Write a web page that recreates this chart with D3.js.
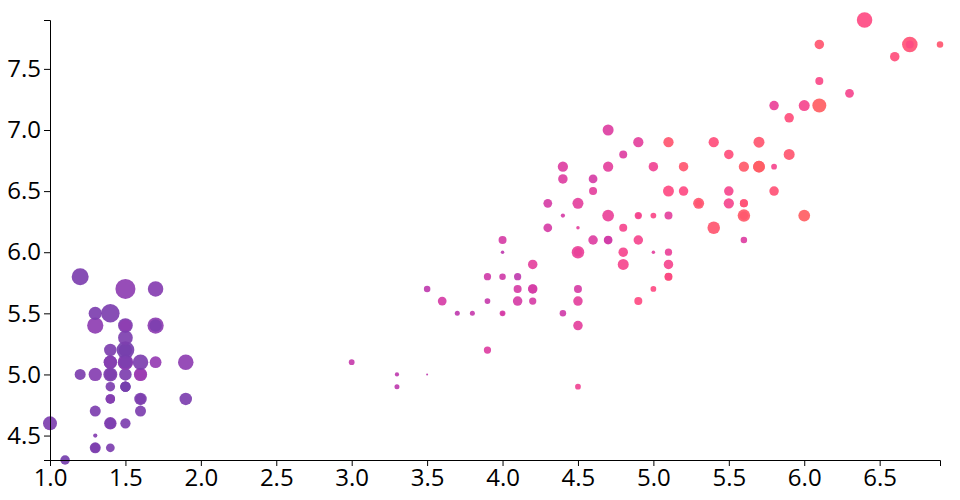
<!DOCTYPE html>
<html>
<head>
<meta charset="utf-8">
<script src="https://cdn.jsdelivr.net/npm/d3@7"></script>
<style>
  body { margin: 0; background: #fff; }
  svg { display: block; }
  .axis text { font-family: "Open Sans", sans-serif; font-size: 24px; fill: #000; }
</style>
</head>
<body>
<svg id="chart" width="960" height="500"></svg>
<script>
// Iris data (sepal length, sepal width, petal length, petal width)
const sepalLength = [5.1,4.9,4.7,4.6,5.0,5.4,4.6,5.0,4.4,4.9,5.4,4.8,4.8,4.3,5.8,5.7,5.4,5.1,5.7,5.1,5.4,5.1,4.6,5.1,4.8,5.0,5.0,5.2,5.2,4.7,4.8,5.4,5.2,5.5,4.9,5.0,5.5,4.9,4.4,5.1,5.0,4.5,4.4,5.0,5.1,4.8,5.1,4.6,5.3,5.0,
7.0,6.4,6.9,5.5,6.5,5.7,6.3,4.9,6.6,5.2,5.0,5.9,6.0,6.1,5.6,6.7,5.6,5.8,6.2,5.6,5.9,6.1,6.3,6.1,6.4,6.6,6.8,6.7,6.0,5.7,5.5,5.5,5.8,6.0,5.4,6.0,6.7,6.3,5.6,5.5,5.5,6.1,5.8,5.0,5.6,5.7,5.7,6.2,5.1,5.7,
6.3,5.8,7.1,6.3,6.5,7.6,4.9,7.3,6.7,7.2,6.5,6.4,6.8,5.7,5.8,6.4,6.5,7.7,7.7,6.0,6.9,5.6,7.7,6.3,6.7,7.2,6.2,6.1,6.4,7.2,7.4,7.9,6.4,6.3,6.1,7.7,6.3,6.4,6.0,6.9,6.7,6.9,5.8,6.8,6.7,6.7,6.3,6.5,6.2,5.9];
const sepalWidth = [3.5,3.0,3.2,3.1,3.6,3.9,3.4,3.4,2.9,3.1,3.7,3.4,3.0,3.0,4.0,4.4,3.9,3.5,3.8,3.8,3.4,3.7,3.6,3.3,3.4,3.0,3.4,3.5,3.4,3.2,3.1,3.4,4.1,4.2,3.1,3.2,3.5,3.1,3.0,3.4,3.5,2.3,3.2,3.5,3.8,3.0,3.8,3.2,3.7,3.3,
3.2,3.2,3.1,2.3,2.8,2.8,3.3,2.4,2.9,2.7,2.0,3.0,2.2,2.9,2.9,3.1,3.0,2.7,2.2,2.5,3.2,2.8,2.5,2.8,2.9,3.0,2.8,3.0,2.9,2.6,2.4,2.4,2.7,2.7,3.0,3.4,3.1,2.3,3.0,2.5,2.6,3.0,2.6,2.3,2.7,3.0,2.9,2.9,2.5,2.8,
3.3,2.7,3.0,2.9,3.0,3.0,2.5,2.9,2.5,3.6,3.2,2.7,3.0,2.5,2.8,3.2,3.0,3.8,2.6,2.2,3.2,2.8,2.8,2.7,3.3,3.2,2.8,3.0,2.8,3.0,2.8,3.8,2.8,2.8,2.6,3.0,3.4,3.1,3.0,3.1,3.1,3.1,2.7,3.2,3.3,3.0,2.5,3.0,3.4,3.0];
const petalLength = [1.4,1.4,1.3,1.5,1.4,1.7,1.4,1.5,1.4,1.5,1.5,1.6,1.4,1.1,1.2,1.5,1.3,1.4,1.7,1.5,1.7,1.5,1.0,1.7,1.9,1.6,1.6,1.5,1.4,1.6,1.6,1.5,1.5,1.4,1.5,1.2,1.3,1.5,1.3,1.5,1.3,1.3,1.3,1.6,1.9,1.4,1.6,1.4,1.5,1.4,
4.7,4.5,4.9,4.0,4.6,4.5,4.7,3.3,4.6,3.9,3.5,4.2,4.0,4.7,3.6,4.4,4.5,4.1,4.5,3.9,4.8,4.0,4.9,4.7,4.3,4.4,4.8,5.0,4.5,3.5,3.8,3.7,3.9,5.1,4.5,4.5,4.7,4.4,4.1,4.0,4.4,4.6,4.0,3.3,4.2,4.2,4.2,4.3,3.0,4.1,
6.0,5.1,5.9,5.6,5.8,6.6,4.5,6.3,5.8,6.1,5.1,5.3,5.5,5.0,5.1,5.3,5.5,6.7,6.9,5.0,5.7,4.9,6.7,4.9,5.7,6.0,4.8,4.9,5.6,5.8,6.1,6.4,5.6,5.1,5.6,6.1,5.6,5.5,4.8,5.4,5.6,5.1,5.1,5.9,5.7,5.2,5.0,5.2,5.4,5.1];
const petalWidth = [0.2,0.2,0.2,0.2,0.2,0.4,0.3,0.2,0.2,0.1,0.2,0.2,0.1,0.1,0.2,0.4,0.4,0.3,0.3,0.3,0.2,0.4,0.2,0.5,0.2,0.2,0.4,0.2,0.2,0.2,0.2,0.4,0.1,0.2,0.1,0.2,0.2,0.1,0.2,0.2,0.3,0.3,0.2,0.6,0.4,0.3,0.2,0.2,0.2,0.2,
1.4,1.5,1.5,1.3,1.5,1.3,1.6,1.0,1.3,1.4,1.0,1.5,1.0,1.4,1.3,1.4,1.5,1.0,1.5,1.1,1.8,1.3,1.5,1.2,1.3,1.4,1.4,1.7,1.5,1.0,1.1,1.0,1.2,1.6,1.5,1.6,1.5,1.3,1.3,1.3,1.2,1.4,1.2,1.0,1.3,1.2,1.3,1.3,1.1,1.3,
2.5,1.9,2.1,1.8,2.2,2.1,1.7,1.8,1.8,2.5,2.0,1.9,2.1,2.0,2.4,2.3,1.8,2.2,2.3,1.5,2.3,2.0,2.0,1.8,2.1,1.8,1.8,1.8,2.1,1.6,1.9,2.0,2.2,1.5,1.4,2.3,2.4,1.8,1.8,2.1,2.4,2.3,1.9,2.3,2.5,2.3,1.9,2.0,2.3,1.8];

const xTicks = [1.0,1.5,2.0,2.5,3.0,3.5,4.0,4.5,5.0,5.5,6.0,6.5];
const yTicks = [4.5,5.0,5.5,6.0,6.5,7.0,7.5];

const rows = sepalLength.map((d, i) => ({sl: d, sw: sepalWidth[i], pl: petalLength[i], pw: petalWidth[i]}));

const width = 960, height = 500;
const margin = {top: 20, right: 20, bottom: 40, left: 50};

const svg = d3.select("#chart");

const x = d3.scaleLinear().domain(d3.extent(petalLength)).range([margin.left, width - margin.right]);
const y = d3.scaleLinear().domain(d3.extent(sepalLength)).range([height - margin.bottom, margin.top]);
const r = d3.scaleLinear().domain(d3.extent(sepalWidth)).range([1, 10]);
const color = d3.scaleSequential(d3.interpolateWarm).domain([0, 5]);

svg.append("g")
  .selectAll("circle")
  .data(rows)
  .join("circle")
  .attr("cx", d => x(d.pl))
  .attr("cy", d => y(d.sl))
  .attr("r", d => r(d.sw))
  .attr("fill", d => color(d.pw))
  .attr("fill-opacity", 0.92);

svg.append("g")
  .attr("class", "axis")
  .attr("transform", `translate(0,${height - margin.bottom})`)
  .call(d3.axisBottom(x).tickValues(xTicks).tickFormat(d3.format(".1f")));

svg.append("g")
  .attr("class", "axis")
  .attr("transform", `translate(${margin.left},0)`)
  .call(d3.axisLeft(y).tickValues(yTicks).tickFormat(d3.format(".1f")));
</script>
</body>
</html>
